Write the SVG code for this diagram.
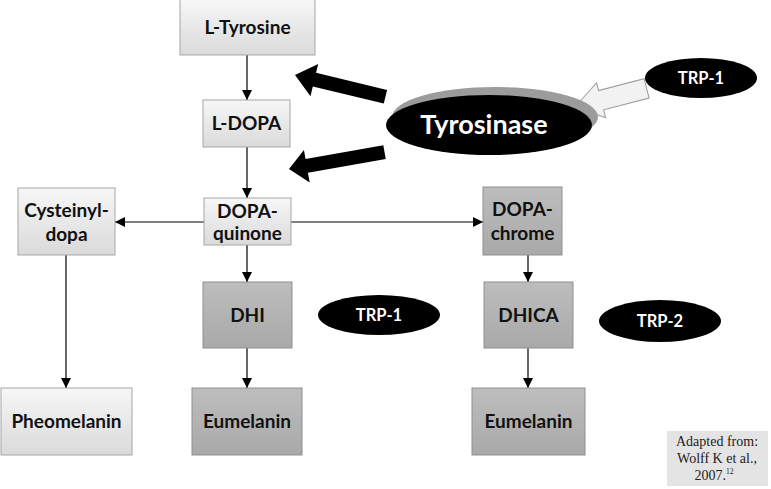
<svg xmlns="http://www.w3.org/2000/svg" width="771" height="489" viewBox="0 0 771 489">
<defs>
<linearGradient id="gl" x1="0" y1="0" x2="0" y2="1"><stop offset="0" stop-color="#f7f7f7"/><stop offset="1" stop-color="#dadada"/></linearGradient>
<linearGradient id="gd" x1="0" y1="0" x2="0" y2="1"><stop offset="0" stop-color="#bdbdbd"/><stop offset="1" stop-color="#a9a9a9"/></linearGradient>
<marker id="ah" viewBox="0 0 10 10" refX="10" refY="5" markerWidth="10" markerHeight="10" markerUnits="userSpaceOnUse" orient="auto"><path d="M0,0 L10,5 L0,10 Z" fill="#000"/></marker>
</defs>
<style>
.bl{fill:url(#gl);stroke:#a6a6a6;stroke-width:1}
.bd{fill:url(#gd);stroke:#8f8f8f;stroke-width:1}
.t{font-family:Lato,"Open Sans","Liberation Sans",sans-serif;font-weight:bold;font-size:19px;fill:#111;text-anchor:middle}
.w{font-family:Lato,"Open Sans","Liberation Sans",sans-serif;font-weight:bold;font-size:16.5px;fill:#fff;text-anchor:middle}
.c{fill:none;stroke:#000;stroke-width:1.2;marker-end:url(#ah)}
.ct{font-family:"Liberation Serif",serif;font-size:14px;fill:#222;text-anchor:middle}
</style>
<rect width="771" height="489" fill="#fff"/>

<g id="connectors">
<line class="c" x1="247" y1="55" x2="247" y2="100"/>
<line class="c" x1="247" y1="147" x2="247" y2="198"/>
<line class="c" x1="204" y1="222" x2="115" y2="222"/>
<line class="c" x1="291" y1="222" x2="483" y2="222"/>
<line class="c" x1="247" y1="245" x2="247" y2="282"/>
<line class="c" x1="247" y1="348" x2="247" y2="388"/>
<line class="c" x1="66" y1="255" x2="66" y2="388"/>
<line class="c" x1="528" y1="255" x2="528" y2="282"/>
<line class="c" x1="528" y1="348" x2="528" y2="388"/>
<polygon id="arrow-upper" points="0,0 20,-16 20,-7 93,-7 93,7 20,7 20,17" fill="#000" transform="translate(295,75) rotate(13.5)"/>
<polygon id="arrow-lower" points="0,0 18,-16 18,-7 97,-7 97,7 18,7 18,17" fill="#000" transform="translate(289,169) rotate(-10)"/>
<polygon id="arrow-white" points="0,0 27,-18 27,-10 74,-10 74,10 27,10 27,18" fill="#f2f2f2" stroke="#9a9a9a" stroke-width="1" transform="translate(575,107) rotate(-14.6)"/>
</g>

<g id="n-ltyrosine"><rect class="bl" x="180" y="-1" width="135" height="56"/><text class="t" x="247.5" y="34">L-Tyrosine</text></g>
<g id="n-ldopa"><rect class="bl" x="203" y="100" width="87" height="47"/><text class="t" x="246.5" y="130">L-DOPA</text></g>
<g id="n-dopaquinone"><rect class="bl" x="204" y="198" width="87" height="47"/><text class="t" x="247.5" y="218">DOPA-</text><text class="t" x="247.5" y="240">quinone</text></g>
<g id="n-cysteinyldopa"><rect class="bl" x="18" y="188" width="97" height="67"/><text class="t" x="66.5" y="217">Cysteinyl-</text><text class="t" x="66.5" y="241">dopa</text></g>
<g id="n-dopachrome"><rect class="bd" x="483" y="187" width="79" height="68"/><text class="t" x="522.5" y="216">DOPA-</text><text class="t" x="522.5" y="240">chrome</text></g>
<g id="n-dhi"><rect class="bd" x="203" y="282" width="89" height="66"/><text class="t" x="247.5" y="322">DHI</text></g>
<g id="n-dhica"><rect class="bd" x="484" y="282" width="89" height="66"/><text class="t" x="528.5" y="322">DHICA</text></g>
<g id="n-pheomelanin"><rect class="bl" x="1" y="388" width="131" height="67"/><text class="t" x="66.5" y="428">Pheomelanin</text></g>
<g id="n-eumelanin1"><rect class="bd" x="192" y="388" width="110" height="67"/><text class="t" x="247" y="428">Eumelanin</text></g>
<g id="n-eumelanin2"><rect class="bd" x="472" y="388" width="113" height="67"/><text class="t" x="528.5" y="428">Eumelanin</text></g>

<g id="n-tyrosinase">
<ellipse cx="495" cy="117" rx="103" ry="30" fill="#9c9c9c"/>
<ellipse cx="489" cy="125" rx="103" ry="30" fill="#000"/>
<text x="484" y="134" font-family="Lato,'Open Sans','Liberation Sans',sans-serif" font-weight="bold" font-size="27" fill="#fff" text-anchor="middle">Tyrosinase</text>
</g>
<g id="n-trp1-top"><ellipse cx="701" cy="78" rx="56" ry="20" fill="#000"/><text class="w" x="701" y="84">TRP-1</text></g>
<g id="n-trp1-mid"><ellipse cx="379" cy="315" rx="61" ry="20" fill="#000"/><text class="w" x="379" y="321">TRP-1</text></g>
<g id="n-trp2"><ellipse cx="660" cy="321" rx="61" ry="21" fill="#000"/><text class="w" x="660" y="327">TRP-2</text></g>

<g id="citation">
<rect x="667" y="431" width="101" height="55" fill="#e4e4e4"/>
<text class="ct" x="717" y="446">Adapted from:</text>
<text class="ct" x="717" y="463">Wolff K et al.,</text>
<text class="ct" x="714" y="480">2007.<tspan font-size="7.5" dy="-6">12</tspan></text>
</g>
</svg>
